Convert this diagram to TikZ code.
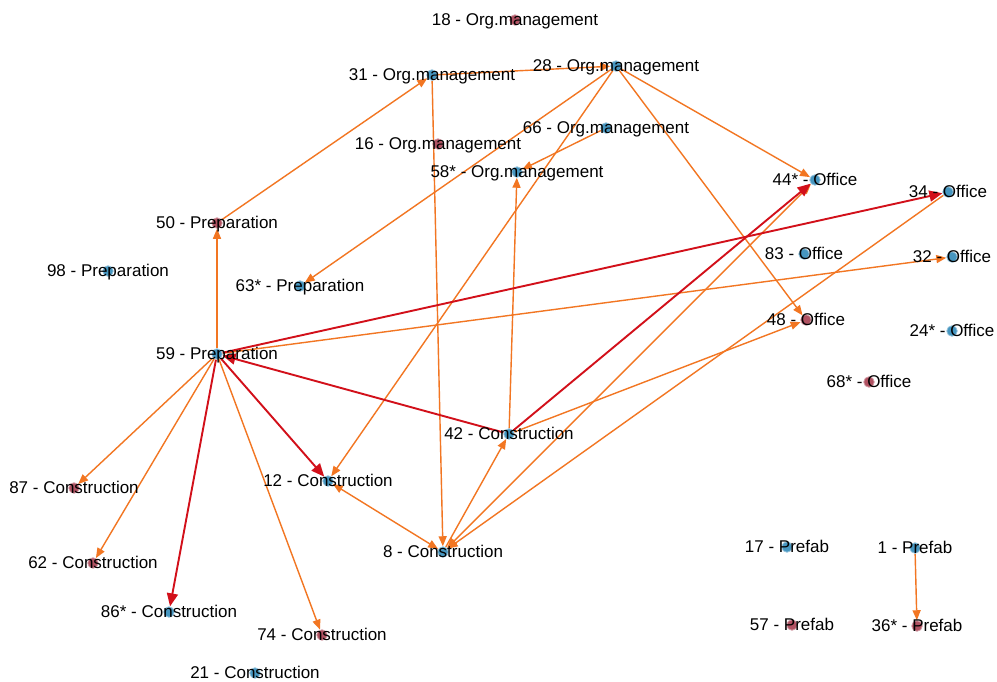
\documentclass[tikz,border=0pt]{standalone}
\usepackage{fontspec}
\setmainfont{Liberation Sans}
\usetikzlibrary{arrows.meta}
\pgfdeclarelayer{bg}
\pgfsetlayers{bg,main}
\definecolor{dotblue}{RGB}{70,150,192}
\definecolor{dotred}{RGB}{176,82,98}
\definecolor{edgeor}{RGB}{242,118,34}
\definecolor{edgered}{RGB}{210,16,26}
\tikzset{
  dotb/.style={circle,inner sep=0pt,minimum size=10.5pt,fill=dotblue,draw=dotblue!60,line width=0.8pt,outer sep=0.5pt},
  dotr/.style={circle,inner sep=0pt,minimum size=10.5pt,fill=dotred,draw=dotred!60,line width=0.8pt,outer sep=0.5pt},
  lbl/.style={anchor=base,inner sep=0pt,yshift=-5pt,font=\fontsize{17pt}{20pt}\selectfont,text=black},
  oe/.style={draw=edgeor,line width=1.4pt,-{Triangle[length=10pt,width=8pt]}},
  oe2/.style={draw=edgeor,line width=1.4pt,{Triangle[length=10pt,width=8pt]}-{Triangle[length=10pt,width=8pt]}},
  re/.style={draw=edgered,line width=1.9pt,-{Triangle[length=13pt,width=11pt]}}
}
\begin{document}
\begin{tikzpicture}[x=1pt,y=-1pt]
\useasboundingbox (0,0) rectangle (997,681);
% dots
\foreach \n/\x/\y/\s in {
 18/515/20/dotr, 31/432/75/dotb, 28/616/66/dotb, 66/606/128/dotb, 16/438/144/dotr,
 58/517/172/dotb, 50/217/223/dotr, 98/108/271/dotb, 63/300/286/dotb, 59/217/354/dotb,
 44/815/180/dotb, 34/948/192/dotb, 83/804/254/dotb, 32/952/257/dotb, 48/806/320/dotr,
 24/952/331/dotb, 68/869/382/dotr, 87/74/488/dotr, 12/328/481/dotb, 62/93/563/dotr,
 86/169/612/dotb, 74/322/635/dotr, 21/255/673/dotb, 42/509/434/dotb, 8/443/552/dotb,
 17/787/547/dotb, 1/915/548/dotb, 57/792/625/dotr, 36/917/626/dotr}
 {\node[\s] (n\n) at (\x,\y) {};}
% labels
\node[lbl] (l18) at (n18) {18 - Org.management};
\node[lbl] (l31) at (n31) {31 - Org.management};
\node[lbl] (l28) at (n28) {28 - Org.management};
\node[lbl] (l66) at (n66) {66 - Org.management};
\node[lbl] (l16) at (n16) {16 - Org.management};
\node[lbl] (l58) at (n58) {58* - Org.management};
\node[lbl] (l50) at (n50) {50 - Preparation};
\node[lbl] (l98) at (n98) {98 - Preparation};
\node[lbl] (l63) at (n63) {63* - Preparation};
\node[lbl] (l59) at (n59) {59 - Preparation};
\node[lbl] (l44) at (n44) {44* - Office};
\node[lbl] (l34) at (n34) {34 - Office};
\node[lbl] (l83) at (n83) {83 - Office};
\node[lbl] (l32) at (n32) {32 - Office};
\node[lbl] (l48) at (n48) {48 - Office};
\node[lbl] (l24) at (n24) {24* - Office};
\node[lbl] (l68) at (n68) {68* - Office};
\node[lbl] (l87) at (n87) {87 - Construction};
\node[lbl] (l12) at (n12) {12 - Construction};
\node[lbl] (l62) at (n62) {62 - Construction};
\node[lbl] (l86) at (n86) {86* - Construction};
\node[lbl] (l74) at (n74) {74 - Construction};
\node[lbl] (l21) at (n21) {21 - Construction};
\node[lbl] (l42) at (n42) {42 - Construction};
\node[lbl] (l8) at (n8) {8 - Construction};
\node[lbl] (l17) at (n17) {17 - Prefab};
\node[lbl] (l1) at (n1) {1 - Prefab};
\node[lbl] (l57) at (n57) {57 - Prefab};
\node[lbl] (l36) at (n36) {36* - Prefab};
% edges
\begin{pgfonlayer}{bg}
\fill[white] (0,0) rectangle (997,681);
\draw[oe] (n50) -- (n31);
\draw[oe] (n31) -- (n28);
\draw[oe] (n31) -- (n8);
\draw[oe] (n28) -- (n63);
\draw[oe] (n28) -- (n12);
\draw[oe] (n28) -- (n44);
\draw[oe] (n28) -- (n48);
\draw[oe] (n66) -- (n58);
\draw[oe] (n42) -- (n58);
\draw[oe] (n59) -- (n50);
\draw[oe] (n59) -- (n32);
\draw[oe] (n59) -- (n87);
\draw[oe] (n59) -- (n62);
\draw[oe] (n59) -- (n74);
\draw[oe2] (n12) -- (n8);
\draw[oe] (n8) -- (n42);
\draw[oe] (n42) -- (n48);
\draw[oe2] (n8) -- (n44);
\draw[oe] (n34) -- (n8);
\draw[oe] (n1) -- (n36);
\draw[re] (n59) -- (n34);
\draw[re] (n42) -- (n59);
\draw[re] (n42) -- (n44);
\draw[re] (n59) -- (n12);
\draw[re] (n59) -- (n86);
\end{pgfonlayer}
\end{tikzpicture}
\end{document}
